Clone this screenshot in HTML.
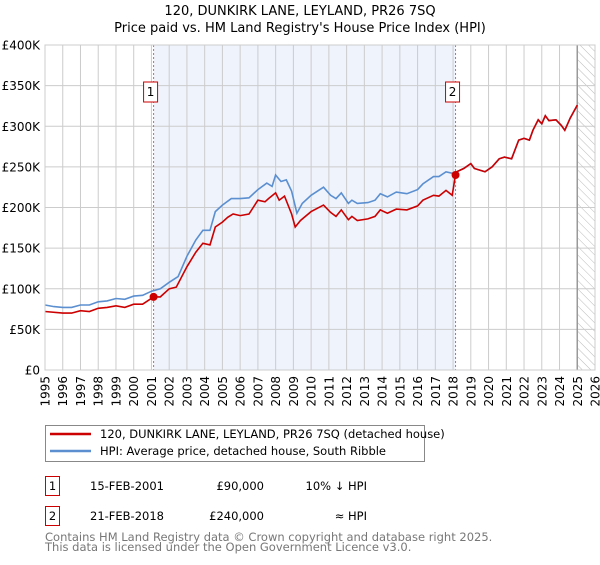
<!DOCTYPE html>
<html><head><meta charset="utf-8"><style>
body{margin:0;background:#fff;}
svg text{font-family:"DejaVu Sans","Liberation Sans",sans-serif;}
</style></head><body>
<svg id="chart" width="600" height="560" xmlns="http://www.w3.org/2000/svg">
<text x="300" y="15" text-anchor="middle" font-size="13">120, DUNKIRK LANE, LEYLAND, PR26 7SQ</text>
<text x="300" y="32" text-anchor="middle" font-size="13">Price paid vs. HM Land Registry's House Price Index (HPI)</text>
<defs><pattern id="hatch" width="6" height="6" patternUnits="userSpaceOnUse" patternTransform="rotate(-45)"><line x1="0" y1="0" x2="0" y2="6" stroke="#bbb" stroke-width="1"/></pattern></defs>
<g id="grid"></g>
<g id="marks"></g>
<g>
<rect x="45.5" y="425.5" width="379" height="36" fill="#fff" stroke="#888"/>
<line x1="50" y1="434" x2="91" y2="434" stroke="#cc0000" stroke-width="2.5"/>
<text x="100" y="438" font-size="11.5">120, DUNKIRK LANE, LEYLAND, PR26 7SQ (detached house)</text>
<line x1="50" y1="451" x2="91" y2="451" stroke="#5b8fd0" stroke-width="2.5"/>
<text x="100" y="455" font-size="11.5">HPI: Average price, detached house, South Ribble</text>
</g>
<g font-size="11.5">
<rect x="45.5" y="476.5" width="14" height="19" fill="#fff" stroke="#cc0000"/>
<text x="52.5" y="490" text-anchor="middle">1</text>
<text x="90" y="490">15-FEB-2001</text>
<text x="264" y="490" text-anchor="end">£90,000</text>
<text x="367" y="490" text-anchor="end">10% ↓ HPI</text>
<rect x="45.5" y="506.5" width="14" height="19" fill="#fff" stroke="#cc0000"/>
<text x="52.5" y="520" text-anchor="middle">2</text>
<text x="90" y="520">21-FEB-2018</text>
<text x="264" y="520" text-anchor="end">£240,000</text>
<text x="367" y="520" text-anchor="end">≈ HPI</text>
</g>
<text x="45" y="541" font-size="11.5" fill="#777">Contains HM Land Registry data © Crown copyright and database right 2025.</text>
<text x="45" y="551" font-size="11.5" fill="#777">This data is licensed under the Open Government Licence v3.0.</text>
</svg>
<script>
const hpiYears=[1995,1995.5,1996,1996.5,1997,1997.5,1998,1998.5,1999,1999.5,2000,2000.5,2001,2001.5,2002,2002.5,2003,2003.5,2003.9,2004.3,2004.6,2005,2005.5,2006,2006.5,2007,2007.5,2007.8,2008,2008.3,2008.6,2008.9,2009.2,2009.5,2010,2010.7,2011.1,2011.4,2011.7,2012.1,2012.3,2012.6,2013.2,2013.6,2013.9,2014.3,2014.8,2015.4,2016,2016.3,2016.9,2017.2,2017.6,2018,2018.2,2018.6,2019,2019.2,2019.8,2020.2,2020.6,2020.9,2021.3,2021.7,2022,2022.3,2022.5,2022.8,2023,2023.2,2023.4,2023.8,2024.1,2024.3,2024.6,2025];
const hpiValues=[80,78,77,77,80,80,84,85,88,87,91,92,97,100,108,115,140,160,172,172,195,203,211,211,212,222,230,226,240,232,234,220,193,205,215,225,215,211,218,205,209,205,206,209,217,213,219,217,222,229,238,238,244,242,244,248,254,248,244,250,260,262,260,283,285,283,295,308,303,313,307,308,301,295,310,326];
const priceYears=[1995,1996,1996.5,1997,1997.5,1998,1998.5,1999,1999.5,2000,2000.5,2001.12,2001.5,2002,2002.4,2003,2003.5,2003.9,2004.3,2004.6,2005,2005.3,2005.6,2006,2006.5,2007,2007.4,2007.6,2008,2008.2,2008.5,2008.9,2009.1,2009.4,2010,2010.7,2011.1,2011.4,2011.7,2012.1,2012.3,2012.6,2013.2,2013.6,2013.9,2014.3,2014.8,2015.4,2016,2016.3,2016.9,2017.2,2017.6,2017.95,2018.14,2018.2,2018.6,2019,2019.2,2019.8,2020.2,2020.6,2020.9,2021.3,2021.7,2022,2022.3,2022.5,2022.8,2023,2023.2,2023.4,2023.8,2024.1,2024.3,2024.6,2025];
const priceValues=[72,70,70,73,72,76,77,79,77,81,81,90,90,100,102,127,145,156,154,176,182,188,192,190,192,209,207,211,218,209,214,192,176,184,195,203,194,189,197,185,189,184,186,189,197,193,198,197,202,209,215,214,221,215,240,244,248,254,248,244,250,260,262,260,283,285,283,295,308,303,313,307,308,301,295,310,326];
const saleYears=[2001.12,2018.14];
const saleValues=[90,240];
const saleLabels=["1","2"];
const yTicks=[0,50,100,150,200,250,300,350,400];
const yTickLabels=["£0","£50K","£100K","£150K","£200K","£250K","£300K","£350K","£400K"];
const xTicks=[1995,1996,1997,1998,1999,2000,2001,2002,2003,2004,2005,2006,2007,2008,2009,2010,2011,2012,2013,2014,2015,2016,2017,2018,2019,2020,2021,2022,2023,2024,2025,2026];

const L=45,R=595,T=45,B=370;
const x=y=>L+(y-1995)/(2026-1995)*(R-L);
const yS=v=>B-v/400*(B-T);
const NS="http://www.w3.org/2000/svg";
function mk(tag,attrs,parent){const e=document.createElementNS(NS,tag);for(const k in attrs)e.setAttribute(k,attrs[k]);parent.appendChild(e);return e;}
const grid=document.getElementById('grid'),marks=document.getElementById('marks');
let r=mk('rect',{x:x(saleYears[0]),y:T,width:x(saleYears[1])-x(saleYears[0]),height:B-T,fill:'#eef3fc'},grid);


let h=mk('rect',{x:x(2025),y:T,width:R-x(2025),height:B-T,fill:'url(#hatch)'},grid);


xTicks.forEach(t=>{
  let l=mk('line',{x1:x(t),x2:x(t),y1:T,y2:B,stroke:'#ccc'},grid);
  
  
  let tx=mk('text',{transform:`translate(${x(t)+4.5},${B+6}) rotate(-90)`,'text-anchor':'end','font-size':'12'},grid);
  tx.textContent=t;
  
  
});
yTicks.forEach((t,i)=>{
  let l=mk('line',{x1:L,x2:R,y1:yS(t),y2:yS(t),stroke:'#ccc'},grid);
  
  
  let tx=mk('text',{x:L-5,y:yS(t)+4.5,'text-anchor':'end','font-size':'12'},grid);
  tx.textContent=yTickLabels[i];
  
  
});
let vl=mk('line',{x1:x(2025),x2:x(2025),y1:T,y2:B,stroke:'#999','stroke-width':1.5},grid);


const pts=(xs,vs)=>xs.map((v,i)=>x(v).toFixed(1)+','+yS(vs[i]).toFixed(1)).join(' ');
let hp=mk('polyline',{points:pts(hpiYears,hpiValues),fill:'none',stroke:'#5b8fd0','stroke-width':1.6},marks);


let pp=mk('polyline',{points:pts(priceYears,priceValues),fill:'none',stroke:'#cc0000','stroke-width':1.6},marks);


saleYears.forEach((s,i)=>{
  let d=mk('line',{x1:x(s),x2:x(s),y1:T,y2:B,stroke:'#e06060','stroke-dasharray':'2,2'},marks);
  
  
  let c=mk('circle',{cx:x(s),cy:yS(saleValues[i]),r:4,fill:'#cc0000'},marks);
  
  
  let b=mk('rect',{x:x(s)-10,y:82,width:14,height:20,fill:'#fff',stroke:'#cc0000'},marks);
  
  
  let t=mk('text',{x:x(s)-3,y:96,'text-anchor':'middle','font-size':'12'},marks);
  t.textContent=saleLabels[i];
  
  
});
let fr=mk('rect',{x:L,y:T,width:R-L,height:B-T,fill:'none',stroke:'#ccc'},marks);


</script>
</body></html>
